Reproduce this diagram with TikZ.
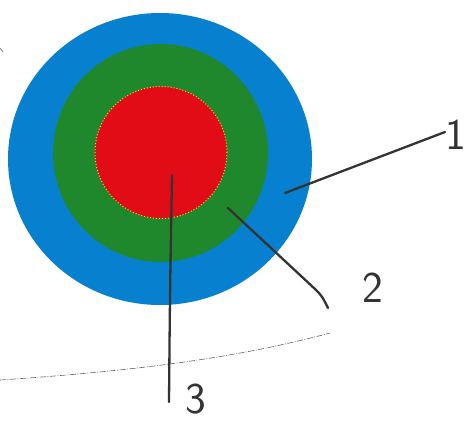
\documentclass[tikz,border=0pt]{standalone}
\usepackage{fontspec}
\begin{document}
\begin{tikzpicture}[x=1pt,y=-1pt,
  lead/.style={draw=black!80, line width=2.3pt, line cap=round},
  digit/.style={font=\fontsize{44}{44}\selectfont\sffamily, text=black!80, inner sep=0pt},
  guide/.style={draw=black!60, line width=0.6pt, dash pattern=on 6pt off 1.5pt on 1pt off 1.5pt}]
\definecolor{ringblue}{RGB}{8,128,208}
\definecolor{ringgreen}{RGB}{32,136,44}
\definecolor{corered}{RGB}{226,12,22}
\definecolor{rimyellow}{RGB}{240,210,40}
\useasboundingbox (0,0) rectangle (468,423);
\fill[white] (0,0) rectangle (468,423);
% guide arc
\draw[guide] (0,380) .. controls (120,372) and (230,360) .. (330,333);
\draw[black!50, line width=0.8pt] (0,48) -- (3,52);
% rings
\fill[ringblue] (160,159) ellipse [x radius=152, y radius=146];
\fill[ringgreen] (160.5,153) ellipse [x radius=107.5, y radius=109];
\node[circle, fill=corered, draw=rimyellow, dotted, line width=1pt, minimum size=132pt, inner sep=0pt] (core) at (161,152.5) {};
% labels
\node[digit] (l1) at (456,135) {1};
\node[digit] (l2) at (373,288) {2};
\node[digit] (l3) at (196,399) {3};
% leader ends
\coordinate (a1) at (285,193);
\coordinate (b1) at (445,132);
\coordinate (a2) at (228,208);
\coordinate (b2) at (328,308);
\coordinate (a3) at (172,175);
\coordinate (b3) at (169,402);
\draw[lead] (a1) -- (b1);
\draw[lead] (a2) -- (315,289) .. controls (322,296) .. (b2);
\draw[lead] (a3) .. controls (170,290) .. (b3);
\end{tikzpicture}
\end{document}
